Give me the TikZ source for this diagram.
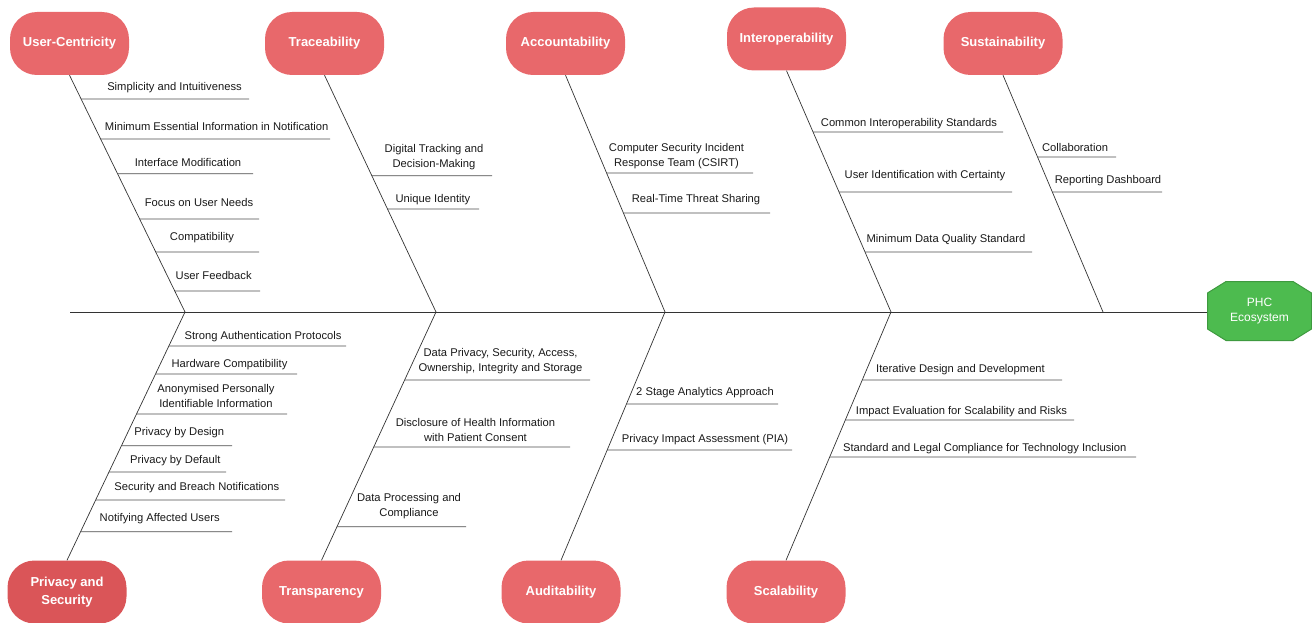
\documentclass[tikz,border=0pt]{standalone}
\usepackage{fontspec}
\setmainfont{Liberation Sans}
\usetikzlibrary{intersections}
\definecolor{pillred}{HTML}{E8686B}
\definecolor{pilldark}{HTML}{DA5558}
\definecolor{hubgreen}{HTML}{4DBB4F}
\definecolor{hubedge}{HTML}{3E9A3F}
\begin{document}
\begin{tikzpicture}[x=1pt,y=-1pt,
    cause/.style={fill=pillred, rounded corners=27pt, minimum width=119pt, minimum height=63pt,
        text=white, align=center, font=\fontsize{13}{18}\selectfont\bfseries},
    bone/.style={draw=black!80, line width=0.7pt},
    spine/.style={draw=black!80, line width=1pt},
    sub/.style={draw=black!70, line width=0.8pt},
    lbl/.style={align=center, text=black!90, inner sep=0pt, font=\fontsize{11.2}{14.5}\selectfont},
    hub/.style={minimum width=105pt, minimum height=60pt, inner sep=0pt,
        text=white, align=center, font=\fontsize{12}{15}\selectfont,
        path picture={\filldraw[fill=hubgreen, draw=hubedge, line width=1pt]
            ([xshift=19pt,yshift=-0.5pt]path picture bounding box.north west)
            -- ([xshift=-19pt,yshift=-0.5pt]path picture bounding box.north east)
            -- ([xshift=-0.5pt,yshift=-12pt]path picture bounding box.north east)
            -- ([xshift=-0.5pt,yshift=12pt]path picture bounding box.south east)
            -- ([xshift=-19pt,yshift=0.5pt]path picture bounding box.south east)
            -- ([xshift=19pt,yshift=0.5pt]path picture bounding box.south west)
            -- ([xshift=0.5pt,yshift=12pt]path picture bounding box.south west)
            -- ([xshift=0.5pt,yshift=-12pt]path picture bounding box.north west) -- cycle;}}
    ]
\useasboundingbox (0,0) rectangle (1312,623);
% categories
\node[cause] (uc) at (69.5,43.5) {User-Centricity};
\node[cause] (tr) at (324.5,43.5) {Traceability};
\node[cause] (ac) at (565.5,43.5) {Accountability};
\node[cause] (io) at (786.5,39) {Interoperability};
\node[cause] (su) at (1003,43.5) {Sustainability};
\node[cause, fill=pilldark] (ps) at (67,592) {Privacy and\\Security};
\node[cause] (tp) at (321.5,592) {Transparency};
\node[cause] (au) at (561,592) {Auditability};
\node[cause] (sc) at (786,592) {Scalability};
\node[hub] (hub) at (1259.5,311) {PHC\\Ecosystem};
% spine and bones
\coordinate (tail) at (70,312);
\coordinate (jU) at (185,312);
\coordinate (jT) at (436,312);
\coordinate (jA) at (665,312);
\coordinate (jI) at (891,312);
\coordinate (jS) at (1103,312);
\draw[spine] (tail) -- (tail -| hub.west);
\draw[bone, name path=ucb] (uc.south) -- (jU);
\draw[bone, name path=trb] (tr.south) -- (jT);
\draw[bone, name path=acb] (ac.south) -- (jA);
\draw[bone, name path=iob] (io.south) -- (jI);
\draw[bone, name path=sub] (su.south) -- (jS);
\draw[bone, name path=psb] (ps.north) -- (jU);
\draw[bone, name path=tpb] (tp.north) -- (jT);
\draw[bone, name path=aub] (au.north) -- (jA);
\draw[bone, name path=scb] (sc.north) -- (jI);
% sub-causes
\foreach \ly/\lx/\tx/\ty/\txt [count=\i] in {
    99/249/174.5/87.7/Simplicity and Intuitiveness,
    139/330/216.7/126/Minimum Essential Information in Notification,
    173.7/253/188/162/Interface Modification,
    219/259/199/202/Focus on User Needs,
    252/259/202/238/Compatibility,
    291/260/213.7/275/User Feedback}{
    \path[name path=hl] (0,\ly) -- (1312,\ly);
    \draw[sub, name intersections={of=ucb and hl}] (intersection-1) -- (\lx,\ly) coordinate (uce\i);
    \node[lbl] (ucl\i) at (\tx,\ty) {\txt};
}
\foreach \ly/\lx/\tx/\ty/\txt [count=\i] in {
    175.7/492/434/157/{Digital Tracking and\\Decision-Making},
    209/479/433/200/Unique Identity}{
    \path[name path=hl] (0,\ly) -- (1312,\ly);
    \draw[sub, name intersections={of=trb and hl}] (intersection-1) -- (\lx,\ly) coordinate (tre\i);
    \node[lbl] (trl\i) at (\tx,\ty) {\txt};
}
\foreach \ly/\lx/\tx/\ty/\txt [count=\i] in {
    173/753/676.5/156/{Computer Security Incident\\Response Team (CSIRT)},
    213/770/696/200/Real-Time Threat Sharing}{
    \path[name path=hl] (0,\ly) -- (1312,\ly);
    \draw[sub, name intersections={of=acb and hl}] (intersection-1) -- (\lx,\ly) coordinate (ace\i);
    \node[lbl] (acl\i) at (\tx,\ty) {\txt};
}
\foreach \ly/\lx/\tx/\ty/\txt [count=\i] in {
    132/1003/909/124/Common Interoperability Standards,
    192/1012/925/176/User Identification with Certainty,
    252/1032/946/240/Minimum Data Quality Standard}{
    \path[name path=hl] (0,\ly) -- (1312,\ly);
    \draw[sub, name intersections={of=iob and hl}] (intersection-1) -- (\lx,\ly) coordinate (ioe\i);
    \node[lbl] (iol\i) at (\tx,\ty) {\txt};
}
\foreach \ly/\lx/\tx/\ty/\txt [count=\i] in {
    157/1116/1075/147/Collaboration,
    192/1162/1108/181/Reporting Dashboard}{
    \path[name path=hl] (0,\ly) -- (1312,\ly);
    \draw[sub, name intersections={of=sub and hl}] (intersection-1) -- (\lx,\ly) coordinate (sue\i);
    \node[lbl] (sul\i) at (\tx,\ty) {\txt};
}
\foreach \ly/\lx/\tx/\ty/\txt [count=\i] in {
    346/346/263/336.7/Strong Authentication Protocols,
    374/297/229.5/365/Hardware Compatibility,
    414/287/216/396/{Anonymised Personally\\Identifiable Information},
    445.7/232/179.3/433/Privacy by Design,
    472/226/175.3/461/Privacy by Default,
    500/285/196.8/488/Security and Breach Notifications,
    531.7/232/159.7/519/Notifying Affected Users}{
    \path[name path=hl] (0,\ly) -- (1312,\ly);
    \draw[sub, name intersections={of=psb and hl}] (intersection-1) -- (\lx,\ly) coordinate (pse\i);
    \node[lbl] (psl\i) at (\tx,\ty) {\txt};
}
\foreach \ly/\lx/\tx/\ty/\txt [count=\i] in {
    380/590/500.5/361/{Data Privacy, Security, Access,\\Ownership, Integrity and Storage},
    447/570/475.5/430/{Disclosure of Health Information\\with Patient Consent},
    526.7/466/409/506/{Data Processing and\\Compliance}}{
    \path[name path=hl] (0,\ly) -- (1312,\ly);
    \draw[sub, name intersections={of=tpb and hl}] (intersection-1) -- (\lx,\ly) coordinate (tpe\i);
    \node[lbl] (tpl\i) at (\tx,\ty) {\txt};
}
\foreach \ly/\lx/\tx/\ty/\txt [count=\i] in {
    404/778/705/393/2 Stage Analytics Approach,
    450/792/705/440/Privacy Impact Assessment (PIA)}{
    \path[name path=hl] (0,\ly) -- (1312,\ly);
    \draw[sub, name intersections={of=aub and hl}] (intersection-1) -- (\lx,\ly) coordinate (aue\i);
    \node[lbl] (aul\i) at (\tx,\ty) {\txt};
}
\foreach \ly/\lx/\tx/\ty/\txt [count=\i] in {
    380/1062/960.5/370/Iterative Design and Development,
    420/1074/961.5/412/Impact Evaluation for Scalability and Risks,
    457/1136/984.7/448.7/Standard and Legal Compliance for Technology Inclusion}{
    \path[name path=hl] (0,\ly) -- (1312,\ly);
    \draw[sub, name intersections={of=scb and hl}] (intersection-1) -- (\lx,\ly) coordinate (sce\i);
    \node[lbl] (scl\i) at (\tx,\ty) {\txt};
}
\end{tikzpicture}
\end{document}
